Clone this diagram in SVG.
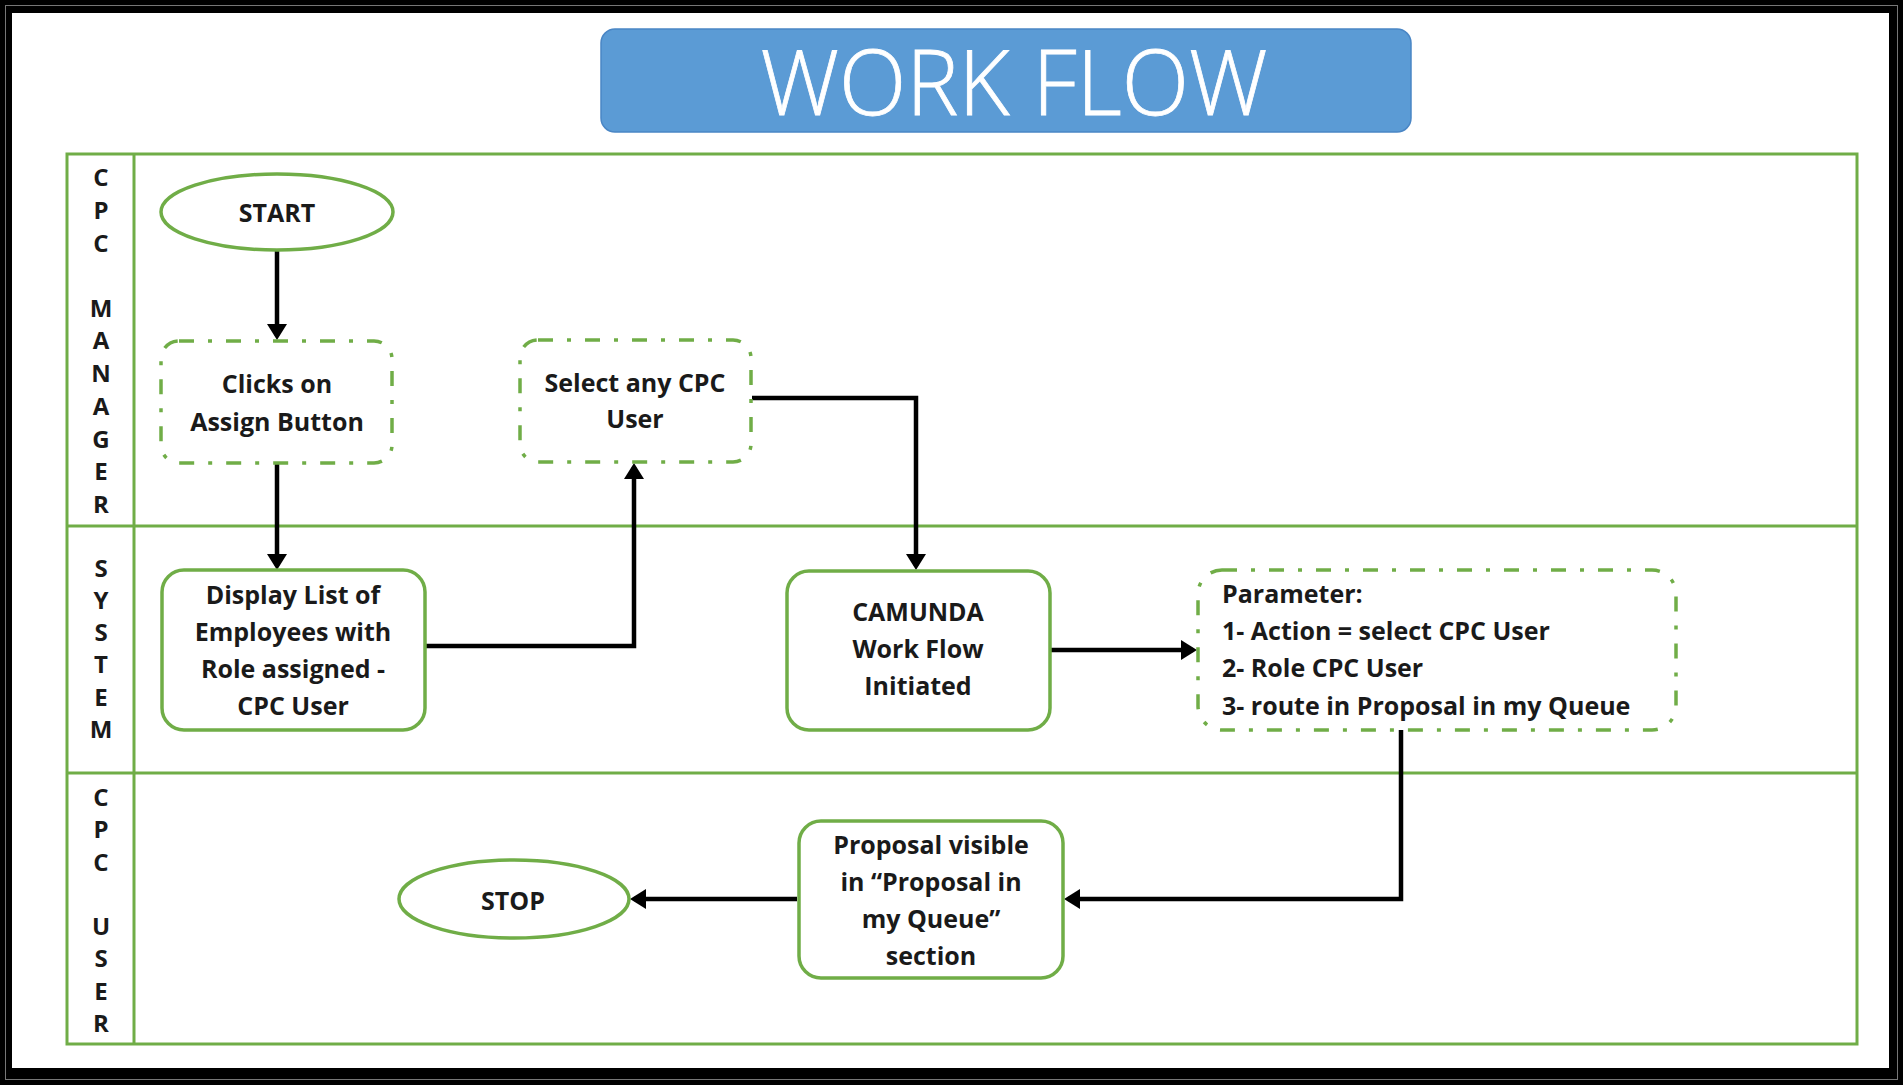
<svg xmlns="http://www.w3.org/2000/svg" width="1903" height="1085" viewBox="0 0 1903 1085">
<style>
.lane{fill:none;stroke:#70AD47;stroke-width:3}
.solid{fill:#fff;stroke:#70AD47;stroke-width:3.5}
.dash{fill:#fff;stroke:#70AD47;stroke-width:3.5;stroke-dasharray:15 14 4 14}
.t{font-family:"Open Sans","Liberation Sans",sans-serif;font-weight:bold;font-size:25px;fill:#1a1a1a;text-anchor:middle}
.tl{font-family:"Open Sans","Liberation Sans",sans-serif;font-weight:bold;font-size:25px;fill:#1a1a1a}
.lbl{font-family:"Open Sans","Liberation Sans",sans-serif;font-weight:bold;font-size:24px;fill:#1a1a1a;text-anchor:middle}
.conn{fill:none;stroke:#000;stroke-width:4.5;marker-end:url(#arr)}
</style>
<defs>
<marker id="arr" viewBox="0 0 16 20" refX="12" refY="10" markerWidth="16" markerHeight="20" markerUnits="userSpaceOnUse" orient="auto">
<path d="M0,0 L16,10 L0,20 Z" fill="#000"/>
</marker>
</defs>
<rect x="0" y="0" width="1903" height="1085" fill="#000"/>
<rect x="5.5" y="5.5" width="1892" height="1074" fill="none" stroke="#777" stroke-width="1"/>
<rect x="12" y="13" width="1877" height="1055" fill="#fff"/>

<g id="title">
<rect x="601" y="29" width="810" height="103" rx="14" fill="#5B9BD5" stroke="#4A86C5" stroke-width="1.5"/>
<text x="1014" y="115" font-family="'Open Sans','Liberation Sans',sans-serif" font-weight="300" font-size="90" fill="#fff" stroke="#fff" stroke-width="0.8" text-anchor="middle" textLength="507" lengthAdjust="spacingAndGlyphs">WORK FLOW</text>
</g>

<g id="lanes">
<rect class="lane" x="67" y="154" width="1790" height="890"/>
<line class="lane" x1="67" y1="526" x2="1857" y2="526"/>
<line class="lane" x1="67" y1="773" x2="1857" y2="773"/>
<line class="lane" x1="134" y1="154" x2="134" y2="1044"/>
</g>

<g id="lane-cpc-manager">
<text class="lbl" x="101" y="186">C</text>
<text class="lbl" x="101" y="219">P</text>
<text class="lbl" x="101" y="252">C</text>
<text class="lbl" x="101" y="317">M</text>
<text class="lbl" x="101" y="349">A</text>
<text class="lbl" x="101" y="382">N</text>
<text class="lbl" x="101" y="415">A</text>
<text class="lbl" x="101" y="448">G</text>
<text class="lbl" x="101" y="480">E</text>
<text class="lbl" x="101" y="513">R</text>
</g>
<g id="lane-system">
<text class="lbl" x="101" y="577">S</text>
<text class="lbl" x="101" y="609">Y</text>
<text class="lbl" x="101" y="641">S</text>
<text class="lbl" x="101" y="673">T</text>
<text class="lbl" x="101" y="706">E</text>
<text class="lbl" x="101" y="738">M</text>
</g>
<g id="lane-cpc-user">
<text class="lbl" x="101" y="806">C</text>
<text class="lbl" x="101" y="838">P</text>
<text class="lbl" x="101" y="871">C</text>
<text class="lbl" x="101" y="935">U</text>
<text class="lbl" x="101" y="967">S</text>
<text class="lbl" x="101" y="1000">E</text>
<text class="lbl" x="101" y="1032">R</text>
</g>

<g id="connectors">
<path class="conn" d="M277,251 V336"/>
<path class="conn" d="M277,463 V566"/>
<path class="conn" d="M425,646 H634 V467"/>
<path class="conn" d="M752,398 H916 V566"/>
<path class="conn" d="M1050,650 H1193"/>
<path class="conn" d="M1401,729 V899 H1068"/>
<path class="conn" d="M797,899 H634"/>
</g>

<g id="start">
<ellipse class="solid" cx="277" cy="212" rx="116" ry="38"/>
<text class="t" x="277" y="222">START</text>
</g>

<g id="clicks-assign">
<rect class="dash" x="161" y="341" width="231" height="122" rx="18"/>
<text class="t" x="277" y="393">Clicks on</text>
<text class="t" x="277" y="431">Assign Button</text>
</g>

<g id="select-cpc-user">
<rect class="dash" x="520" y="340" width="231" height="122" rx="18"/>
<text class="t" x="635" y="392">Select any CPC</text>
<text class="t" x="635" y="428">User</text>
</g>

<g id="display-list">
<rect class="solid" x="162" y="570" width="263" height="160" rx="22"/>
<text class="t" x="293" y="604">Display List of</text>
<text class="t" x="293" y="641">Employees with</text>
<text class="t" x="293" y="678">Role assigned -</text>
<text class="t" x="293" y="715">CPC User</text>
</g>

<g id="camunda">
<rect class="solid" x="787" y="571" width="263" height="159" rx="22"/>
<text class="t" x="918" y="621">CAMUNDA</text>
<text class="t" x="918" y="658">Work Flow</text>
<text class="t" x="918" y="695">Initiated</text>
</g>

<g id="parameter">
<rect class="dash" x="1198" y="570" width="478" height="160" rx="24"/>
<text class="tl" x="1222" y="603">Parameter:</text>
<text class="tl" x="1222" y="640">1- Action = select CPC User</text>
<text class="tl" x="1222" y="677">2- Role CPC User</text>
<text class="tl" x="1222" y="715">3- route in Proposal in my Queue</text>
</g>

<g id="proposal-visible">
<rect class="solid" x="799" y="821" width="264" height="157" rx="22"/>
<text class="t" x="931" y="854">Proposal visible</text>
<text class="t" x="931" y="891">in “Proposal in</text>
<text class="t" x="931" y="928">my Queue”</text>
<text class="t" x="931" y="965">section</text>
</g>

<g id="stop">
<ellipse class="solid" cx="514" cy="899" rx="115" ry="39"/>
<text class="t" x="513" y="910">STOP</text>
</g>
</svg>
